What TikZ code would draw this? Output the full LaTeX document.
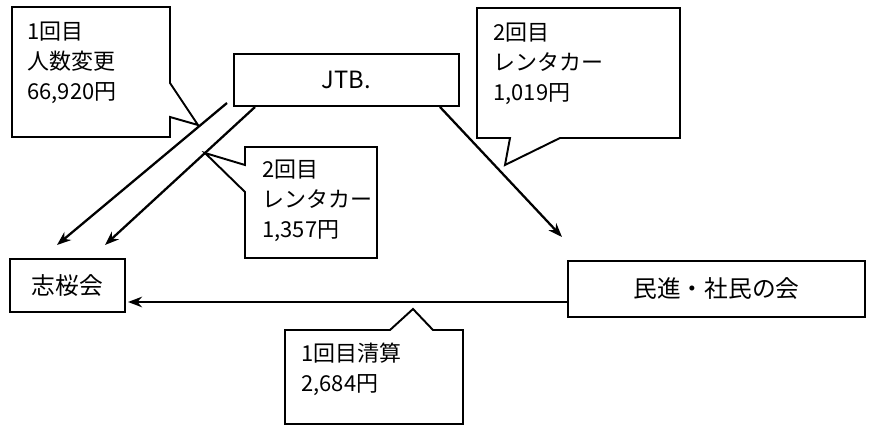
\documentclass[tikz,border=0pt]{standalone}
\usepackage{fontspec}
\setmainfont{Noto Sans CJK JP}
\usetikzlibrary{arrows.meta,calc}
\tikzset{
  box/.style={draw, line width=1.2pt, inner sep=0pt, font=\fontsize{13.5}{16}\selectfont},
  arr/.style={line width=1.3pt, -{Stealth[length=8pt,width=6pt]}},
  callout/.style={draw, line width=1.1pt, fill=white, line join=miter},
  ctext/.style={anchor=north west, inner sep=0pt, align=left, font=\fontsize{12.5}{17}\selectfont}
}
\begin{document}
\begin{tikzpicture}[x=0.02cm,y=-0.02cm]
\useasboundingbox (0,0) rectangle (873,425);
% main boxes
\node[box, minimum width=4.5cm, minimum height=1.04cm] (jtb) at (346.5,80) {JTB.};
\node[box, minimum width=2.3cm, minimum height=1.06cm] (shio) at (67.5,285.5) {志桜会};
\node[box, minimum width=5.94cm, minimum height=1.12cm] (min) at (716.5,289) {民進・社民の会};
% connector end coordinates
\coordinate (a1s) at (227,103);
\coordinate (a1e) at (57,245);
\coordinate (a2s) at (255,107);
\coordinate (a2e) at (105,245);
\coordinate (a3s) at (440,107);
\coordinate (a3e) at (562,237);
\coordinate (a4s) at (568,302);
\coordinate (a4e) at (128,302);
\draw[arr] (a1s) -- (a1e);
\draw[arr] (a2s) -- (a2e);
\draw[arr] (a3s) -- (a3e);
\draw[arr] (a4s) -- (a4e);
% callout 1
\draw[callout] (12,7) -- (170,7) -- (170,83) -- (198,125) -- (170,117) -- (170,137) -- (12,137) -- cycle;
\node[ctext] (c1) at (27,22) {1回目\\人数変更\\66,920円};
% callout 2
\draw[callout] (245,147) -- (377,147) -- (377,258) -- (245,258) -- (245,192) -- (205,153) -- (245,165) -- cycle;
\node[ctext] (c2) at (262,160) {2回目\\レンタカー\\1,357円};
% callout 3
\draw[callout] (477,8) -- (680,8) -- (680,138) -- (560,138) -- (505,165) -- (510,138) -- (477,138) -- cycle;
\node[ctext] (c3) at (493,23) {2回目\\レンタカー\\1,019円};
% callout 4
\draw[callout] (285,330) -- (390,330) -- (413,309) -- (433,330) -- (463,330) -- (463,424) -- (285,424) -- cycle;
\node[ctext] (c4) at (301,343) {1回目清算\\2,684円};
\end{tikzpicture}
\end{document}
